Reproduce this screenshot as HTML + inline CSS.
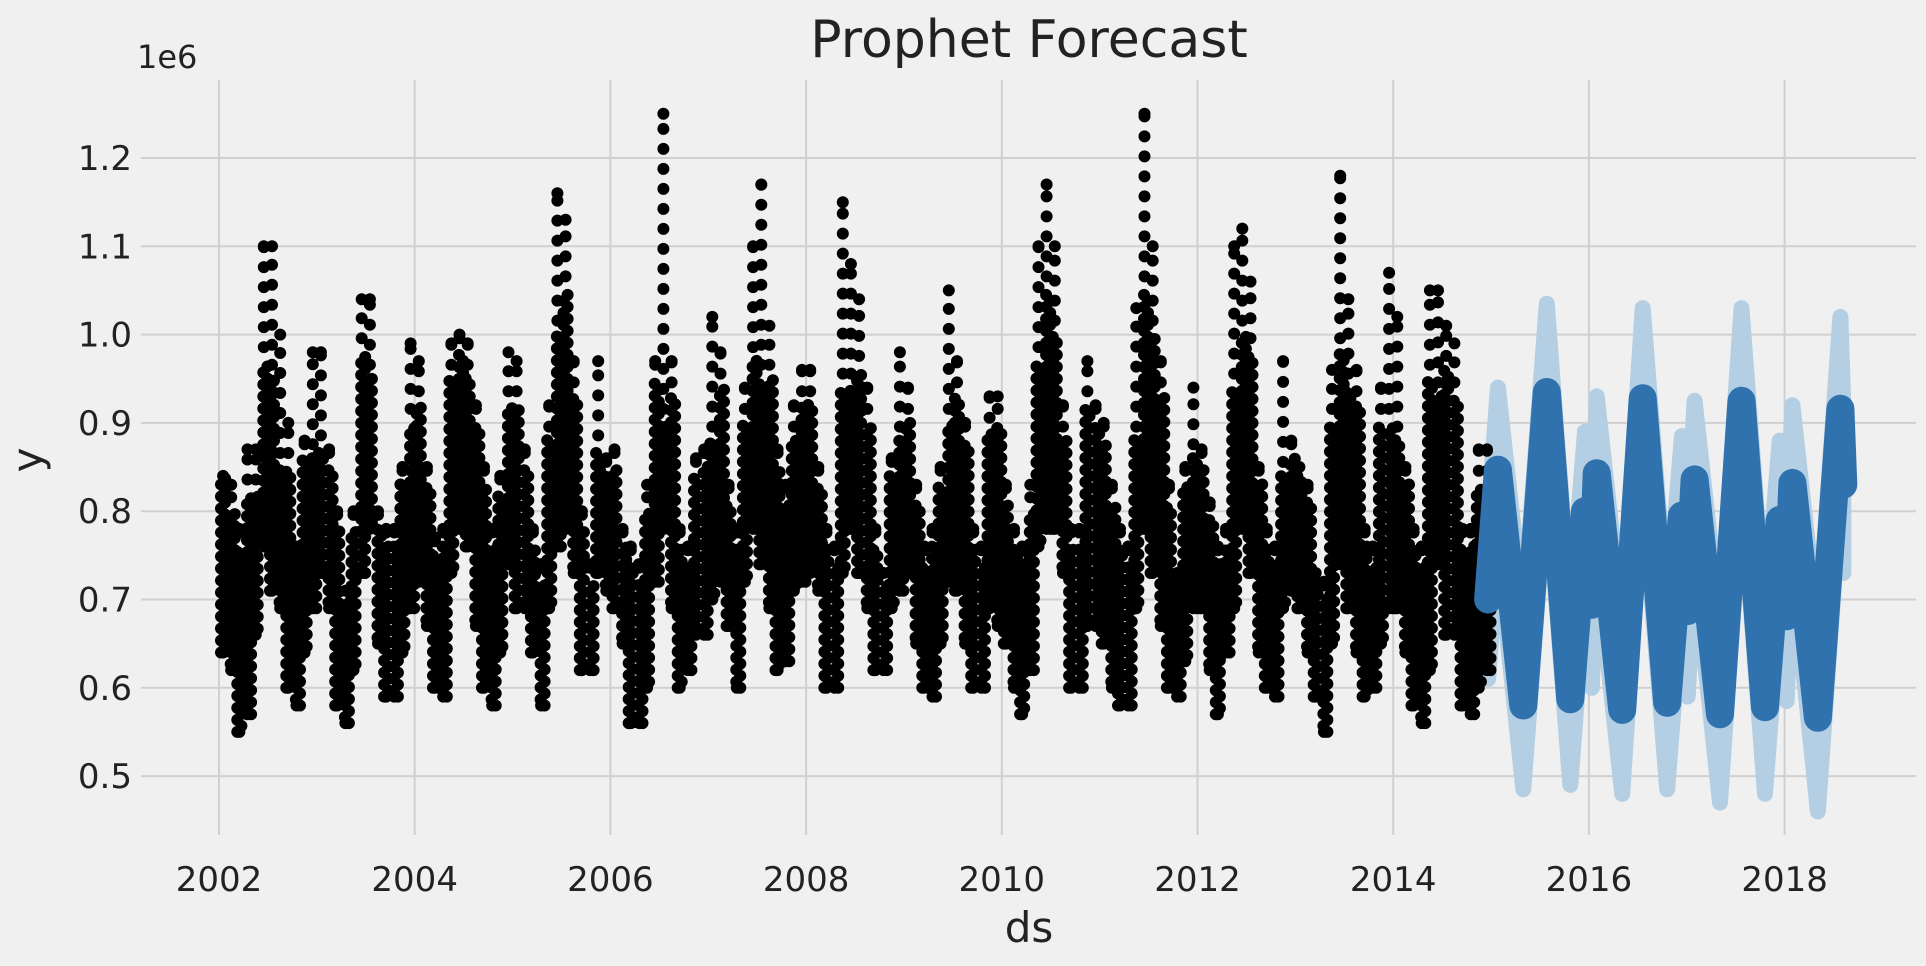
<!DOCTYPE html>
<html><head><meta charset="utf-8"><style>
html,body{margin:0;padding:0;background:#f0f0f0;}
svg{display:block;font-family:"DejaVu Sans","Liberation Sans",sans-serif;}
</style></head><body>
<svg id="chart" width="1926" height="966" viewBox="0 0 1926 966" xmlns="http://www.w3.org/2000/svg">
<rect x="0" y="0" width="1926" height="966" fill="#f0f0f0"/>
<g id="grid"></g>
<g id="band"></g>
<g id="hist"></g>
<g id="fc"></g>
<g id="ticks"></g>
<text x="1029" y="57" font-size="52" text-anchor="middle" fill="#222">Prophet Forecast</text>
<text x="137" y="68" font-size="32" fill="#222">1e6</text>
<text x="1029" y="942" font-size="42" text-anchor="middle" fill="#222">ds</text>
<text x="0" y="0" font-size="42" text-anchor="middle" fill="#222" transform="translate(42,460) rotate(-90)">y</text>
</svg>
<script>
const xTicks = [2002,2004,2006,2008,2010,2012,2014,2016,2018];
const yTicks = [0.5,0.6,0.7,0.8,0.9,1.0,1.1,1.2];
const yTickLabels = ["0.5","0.6","0.7","0.8","0.9","1.0","1.1","1.2"];
const histStartYear = 2002;
const histMax = [0.84,0.83,0.78,0.87,0.87,1.10,1.10,1.00,0.90,0.76,0.88,0.98,
0.98,0.87,0.80,0.71,0.80,1.04,1.04,0.80,0.78,0.78,0.85,0.99,
0.97,0.85,0.77,0.78,0.99,1.00,0.99,0.92,0.85,0.78,0.84,0.98,
0.97,0.87,0.78,0.74,0.92,1.16,1.13,0.97,0.80,0.74,0.97,0.86,
0.87,0.78,0.76,0.74,0.83,0.97,1.25,0.97,0.78,0.76,0.86,0.87,
1.02,0.98,0.83,0.78,0.94,1.10,1.17,1.01,0.87,0.83,0.92,0.96,
0.96,0.85,0.78,0.76,1.15,1.08,1.04,0.94,0.78,0.73,0.86,0.98,
0.94,0.83,0.76,0.78,0.85,1.05,0.97,0.90,0.78,0.76,0.93,0.93,
0.83,0.78,0.76,0.83,1.10,1.17,1.10,0.92,0.78,0.78,0.97,0.92,
0.90,0.83,0.78,0.76,1.03,1.25,1.10,0.97,0.83,0.73,0.85,0.94,
0.87,0.81,0.76,0.78,1.10,1.12,1.06,0.85,0.78,0.76,0.97,0.88,
0.85,0.83,0.73,0.72,0.96,1.18,1.04,0.96,0.78,0.76,0.94,1.07,
1.02,0.85,0.78,0.76,1.05,1.05,1.01,0.99,0.78,0.78,0.87,0.87];
const histCoreHi = [0.84,0.80,0.76,0.82,0.82,0.97,0.95,0.85,0.85,0.76,0.86,0.86,
0.87,0.85,0.78,0.70,0.78,0.98,0.95,0.78,0.76,0.76,0.83,0.90,
0.92,0.83,0.75,0.76,0.95,0.98,0.95,0.90,0.83,0.76,0.82,0.92,
0.92,0.85,0.76,0.72,0.88,1.00,1.05,0.93,0.78,0.72,0.87,0.84,
0.85,0.76,0.74,0.72,0.80,0.95,0.90,0.93,0.76,0.74,0.84,0.85,
0.88,0.94,0.81,0.76,0.90,0.97,0.95,0.95,0.85,0.81,0.88,0.92,
0.92,0.83,0.76,0.74,0.94,0.94,0.96,0.90,0.76,0.72,0.84,0.88,
0.90,0.81,0.74,0.76,0.83,0.90,0.93,0.88,0.76,0.74,0.89,0.90,
0.81,0.76,0.74,0.80,0.97,1.05,1.00,0.88,0.76,0.76,0.92,0.90,
0.88,0.81,0.76,0.74,0.88,1.05,1.00,0.93,0.81,0.72,0.83,0.86,
0.85,0.79,0.74,0.76,0.94,1.00,0.98,0.83,0.76,0.74,0.84,0.86,
0.84,0.81,0.72,0.70,0.90,0.98,0.94,0.92,0.76,0.74,0.90,0.90,
0.88,0.83,0.76,0.74,0.95,0.93,0.96,0.93,0.76,0.76,0.83,0.83];
const histLo = [0.64,0.62,0.55,0.57,0.66,0.76,0.71,0.69,0.60,0.58,0.64,0.69,
0.73,0.69,0.58,0.56,0.62,0.73,0.78,0.65,0.59,0.59,0.64,0.69,
0.72,0.67,0.60,0.59,0.73,0.78,0.76,0.67,0.60,0.58,0.64,0.74,
0.69,0.69,0.64,0.58,0.69,0.76,0.78,0.73,0.62,0.62,0.73,0.71,
0.69,0.65,0.56,0.56,0.60,0.72,0.78,0.69,0.60,0.62,0.66,0.66,
0.70,0.72,0.67,0.60,0.72,0.78,0.74,0.69,0.62,0.63,0.71,0.72,
0.73,0.71,0.60,0.60,0.73,0.78,0.73,0.69,0.62,0.62,0.69,0.71,
0.73,0.65,0.60,0.59,0.65,0.72,0.71,0.65,0.60,0.60,0.69,0.67,
0.65,0.60,0.57,0.62,0.76,0.78,0.78,0.73,0.60,0.60,0.67,0.67,
0.65,0.60,0.58,0.58,0.69,0.78,0.73,0.67,0.60,0.59,0.63,0.69,
0.69,0.62,0.57,0.64,0.69,0.78,0.73,0.64,0.60,0.59,0.69,0.71,
0.69,0.64,0.59,0.55,0.65,0.74,0.69,0.64,0.59,0.60,0.65,0.69,
0.69,0.64,0.58,0.56,0.62,0.74,0.66,0.66,0.58,0.57,0.60,0.62];
const fcDates = [2014.97,2015.07,2015.33,2015.57,2015.81,2015.96,2016.03,2016.08,2016.34,2016.55,2016.80,2016.95,2017.01,2017.08,2017.34,2017.56,2017.80,2017.95,2018.02,2018.08,2018.34,2018.57,2018.60];
const fcYhat = [0.70,0.847,0.58,0.935,0.587,0.80,0.694,0.843,0.575,0.928,0.583,0.795,0.687,0.836,0.57,0.925,0.578,0.79,0.681,0.832,0.566,0.916,0.83];
const fcUpper = [0.79,0.94,0.68,1.035,0.68,0.89,0.79,0.93,0.67,1.03,0.68,0.885,0.78,0.925,0.665,1.03,0.675,0.88,0.775,0.92,0.66,1.02,0.92];
const fcLower = [0.61,0.76,0.485,0.84,0.49,0.71,0.60,0.75,0.48,0.83,0.485,0.70,0.59,0.74,0.47,0.83,0.48,0.70,0.585,0.74,0.46,0.82,0.73];

const NS="http://www.w3.org/2000/svg";
const X0=141, X1=1916, Y0=80, Y1=835;
function xs(yr){return 219+(yr-2002)*97.85;}
function ys(v){return 158+(1.2-v)/0.1*88.3;}
function mk(tag,attrs,parent){const e=document.createElementNS(NS,tag);for(const k in attrs)e.setAttribute(k,attrs[k]);parent.appendChild(e);return e;}

const grid=document.getElementById('grid');
xTicks.forEach(t=>{
  const l=mk('line',{x1:xs(t),x2:xs(t),y1:Y0,y2:Y1,stroke:'#d0d0d0','stroke-width':2},grid);
  
  
});
yTicks.forEach(t=>{
  const l=mk('line',{x1:X0,x2:X1,y1:ys(t),y2:ys(t),stroke:'#d0d0d0','stroke-width':2},grid);
  
  
});
const ticks=document.getElementById('ticks');
xTicks.forEach(t=>{
  const e=mk('text',{x:xs(t),y:891,'font-size':34,'text-anchor':'middle',fill:'#222'},ticks);
  e.textContent=String(t);
  
  
});
yTicks.forEach((t,i)=>{
  const e=mk('text',{x:132,y:ys(t)+12,'font-size':34,'text-anchor':'end',fill:'#222'},ticks);
  e.textContent=yTickLabels[i];
  
  
});

const hist=document.getElementById('hist');
let pts='';
const mw=97.85/12;
for(let m=0;m<histLo.length;m++){
  const xa=xs(histStartYear+m/12);
  const yLo=ys(histLo[m]), yCore=ys(histCoreHi[m]), yMax=ys(histMax[m]);
  for(let c=0;c<2;c++){
    const cx=xa+mw*(c+0.5)/2 + (m%2)*1.5;
    const off=((c+m)%2)*6;
    for(let y=yLo-off;y>=yCore-0.5;y-=12){pts+=`M${cx.toFixed(1)},${y.toFixed(1)}h0`;}
  }
  const cx=xa+mw/2;
  for(let y=yCore-14;y>=yMax-0.5;y-=20){pts+=`M${cx.toFixed(1)},${y.toFixed(1)}h0`;}
  pts+=`M${cx.toFixed(1)},${yMax.toFixed(1)}h0`;
  pts+=`M${cx.toFixed(1)},${yLo.toFixed(1)}h0`;
}
const hp=mk('path',{d:pts,stroke:'#000','stroke-width':12,'stroke-linecap':'round',fill:'none'},hist);



const band=document.getElementById('band');
let d='M'+fcDates.map((t,i)=>xs(t).toFixed(1)+','+ys(fcUpper[i]).toFixed(1)).join('L');
for(let i=fcDates.length-1;i>=0;i--){d+='L'+xs(fcDates[i]).toFixed(1)+','+ys(fcLower[i]).toFixed(1);}
d+='Z';
const bp=mk('path',{d:d,fill:'#b4cfe3',stroke:'#b4cfe3','stroke-width':16,'stroke-linejoin':'round'},band);



const fc=document.getElementById('fc');
const ld='M'+fcDates.map((t,i)=>xs(t).toFixed(1)+','+ys(fcYhat[i]).toFixed(1)).join('L');
const fp=mk('path',{d:ld,fill:'none',stroke:'#2f72ae','stroke-width':28,'stroke-linecap':'round','stroke-linejoin':'round'},fc);


</script>
</body></html>
